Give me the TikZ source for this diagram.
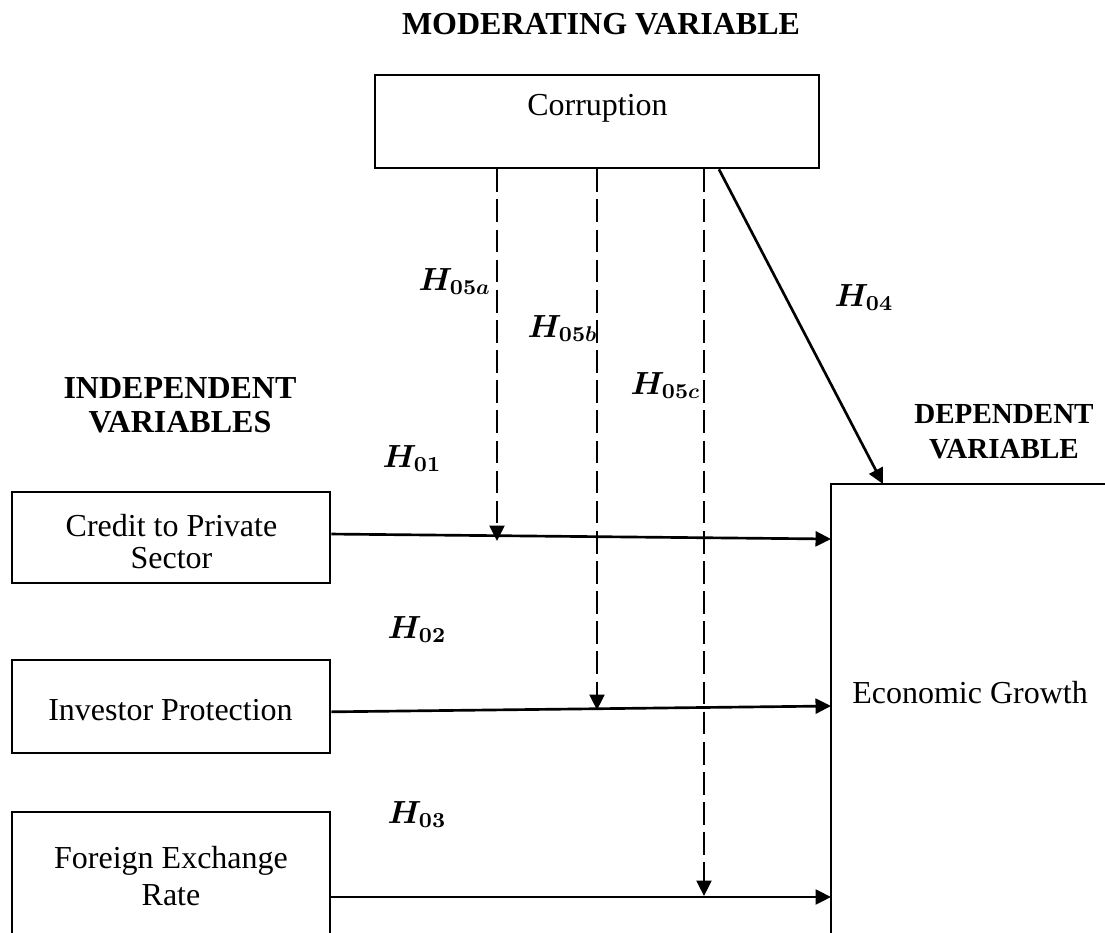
\RequirePackage{fix-cm}
\documentclass[tikz,border=0pt]{standalone}
\usepackage{amsmath,bm}
\usepackage{fontspec}
\setmainfont{Liberation Serif}
\usetikzlibrary{arrows.meta}
\tikzset{
  box/.style={draw, line width=1pt, inner sep=0pt, rectangle},
  txt/.style={anchor=base, inner sep=0pt, font=\fontsize{12}{14}\selectfont},
  head/.style={anchor=base, inner sep=0pt, font=\fontsize{12}{14}\selectfont\bfseries},
  headsm/.style={anchor=base, inner sep=0pt, font=\fontsize{10.9}{13}\selectfont\bfseries},
  hyp/.style={anchor=base west, inner sep=0pt, font=\fontsize{12}{14}\selectfont},
  arr/.style={line width=1pt, -{Triangle[length=5.8pt,width=5.6pt]}},
  dsh/.style={arr, dash pattern=on 8.5pt off 2.8pt}
}
\begin{document}
\begin{tikzpicture}[x=0.375pt,y=-0.375pt]
\useasboundingbox (0,0) rectangle (1105,933);
\clip (0,0) rectangle (1105,933);
\fill[white] (0,0) rectangle (1105,933);

% headings
\node[head] (hmod) at (601,34) {MODERATING VARIABLE};
\node[head] (hind1) at (180,398) {INDEPENDENT};
\node[head] (hind2) at (180,432) {VARIABLES};
\node[headsm] (hdep1) at (1004,423) {DEPENDENT};
\node[headsm] (hdep2) at (1004,458) {VARIABLE};

% boxes
\node[box, minimum width=166.5pt, minimum height=34.875pt] (corr) at (597,121.5) {};
\node[box, minimum width=119.25pt, minimum height=34.125pt] (credit) at (171,537.5) {};
\node[box, minimum width=119.25pt, minimum height=34.875pt] (invest) at (171,706.5) {};
\node[box, minimum width=119.25pt, minimum height=70.5pt] (forex) at (171,906) {};
\node[box, minimum width=138.4pt, minimum height=193.5pt] (growth) at (1015.5,742) {};

% box texts
\node[txt] (corrT) at (597.5,115) {Corruption};
\node[txt] (creditT1) at (171.5,536) {Credit to Private};
\node[txt] (creditT2) at (171.5,568) {Sector};
\node[txt] (investT) at (170.5,720) {Investor Protection};
\node[txt] (forexT1) at (171,868) {Foreign Exchange};
\node[txt] (forexT2) at (171,905) {Rate};
\node[txt] (growthT) at (970,703) {Economic Growth};

% target points
\coordinate (g1) at (831,539);
\coordinate (g2) at (831,706);
\coordinate (g3) at (831,897);
\coordinate (gtop) at (883,484);
\coordinate (ta) at (497,541);
\coordinate (tb) at (597,710);
\coordinate (tc) at (704,896);

% main arrows
\draw[arr] ([yshift=1.3pt]credit.east) -- (g1);
\draw[arr] ([yshift=-2pt]invest.east) -- (g2);
\draw[arr] (forex.east |- g3) -- (g3);
\draw[arr] ([xshift=45.75pt]corr.south) -- (gtop);

% moderating dashed arrows
\draw[dsh] (corr.south -| ta) -- (ta);
\draw[dsh] (corr.south -| tb) -- (tb);
\draw[dsh] (corr.south -| tc) -- (tc);

% hypothesis labels
\node[hyp] (h05a) at (418,290) {$\bm{H_{05a}}$};
\node[hyp] (h05b) at (527,337) {$\bm{H_{05b}}$};
\node[hyp] (h05c) at (630,394) {$\bm{H_{05c}}$};
\node[hyp] (h04) at (834,306) {$\bm{H_{04}}$};
\node[hyp] (h01) at (382,467) {$\bm{H_{01}}$};
\node[hyp] (h02) at (387,638) {$\bm{H_{02}}$};
\node[hyp] (h03) at (387,823) {$\bm{H_{03}}$};
\end{tikzpicture}
\end{document}
